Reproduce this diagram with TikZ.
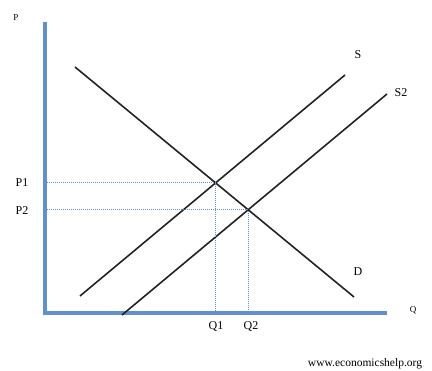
\documentclass[tikz,border=0pt]{standalone}
\usepackage{fontspec}
\setmainfont{Liberation Serif}
\usetikzlibrary{intersections}
\definecolor{AxisBlue}{RGB}{96,145,202}
\definecolor{LineGray}{RGB}{35,35,35}

\begin{document}
\begin{tikzpicture}[x=1pt, y=-1pt,
    axisline/.style={AxisBlue, line width=3.5pt},
    curve/.style={LineGray, line width=1.6pt},
    guide/.style={AxisBlue, line width=1pt, dash pattern=on 1pt off 1pt},
    lbl/.style={font=\fontsize{12}{14}\selectfont, inner sep=1pt},
    small/.style={font=\fontsize{9}{10}\selectfont, inner sep=1pt}]
    \useasboundingbox[fill=white] (0,0) rectangle (432,371);

    % Axes
    \coordinate (origin) at (45,313);
    \coordinate (ptop) at (45,22);
    \coordinate (qend) at (387,313);
    \draw[axisline] (ptop) -- (origin) -- (qend);
    \node[small] (plabel) at (16,18) {P};
    \node[small] (qlabel) at (413,310) {Q};

    % Demand and the two supply curves
    \coordinate (dstart) at (75,67);
    \coordinate (dend) at (354,297);
    \coordinate (sstart) at (80,296);
    \coordinate (send) at (345,75);
    \coordinate (stwostart) at (122,315);
    \coordinate (stwoend) at (387,94);
    \draw[curve, name path=dem] (dstart) -- (dend);
    \draw[curve, name path=sup] (sstart) -- (send);
    \draw[curve, name path=suptwo] (stwostart) -- (stwoend);
    \node[lbl] (dlabel) at (358,272) {D};
    \node[lbl] (slabel) at (358,55) {S};
    \node[lbl] (stwolabel) at (401,93) {S2};

    % Equilibria
    \path[name intersections={of=dem and sup, by=eone}];
    \path[name intersections={of=dem and suptwo, by=etwo}];
    \draw[guide] (eone -| origin) -- (eone) -- (eone |- origin);
    \draw[guide] (etwo -| origin) -- (etwo) -- (etwo |- origin);
    \node[lbl] (poneLabel) at (22,183) {P1};
    \node[lbl] (ptwoLabel) at (22,211) {P2};
    \node[lbl] (qoneLabel) at (216,327) {Q1};
    \node[lbl] (qtwoLabel) at (251,327) {Q2};

    \node[font=\fontsize{11.5}{13}\selectfont, inner sep=0pt] (source) at (365,364) {www.economicshelp.org};
\end{tikzpicture}
\end{document}
